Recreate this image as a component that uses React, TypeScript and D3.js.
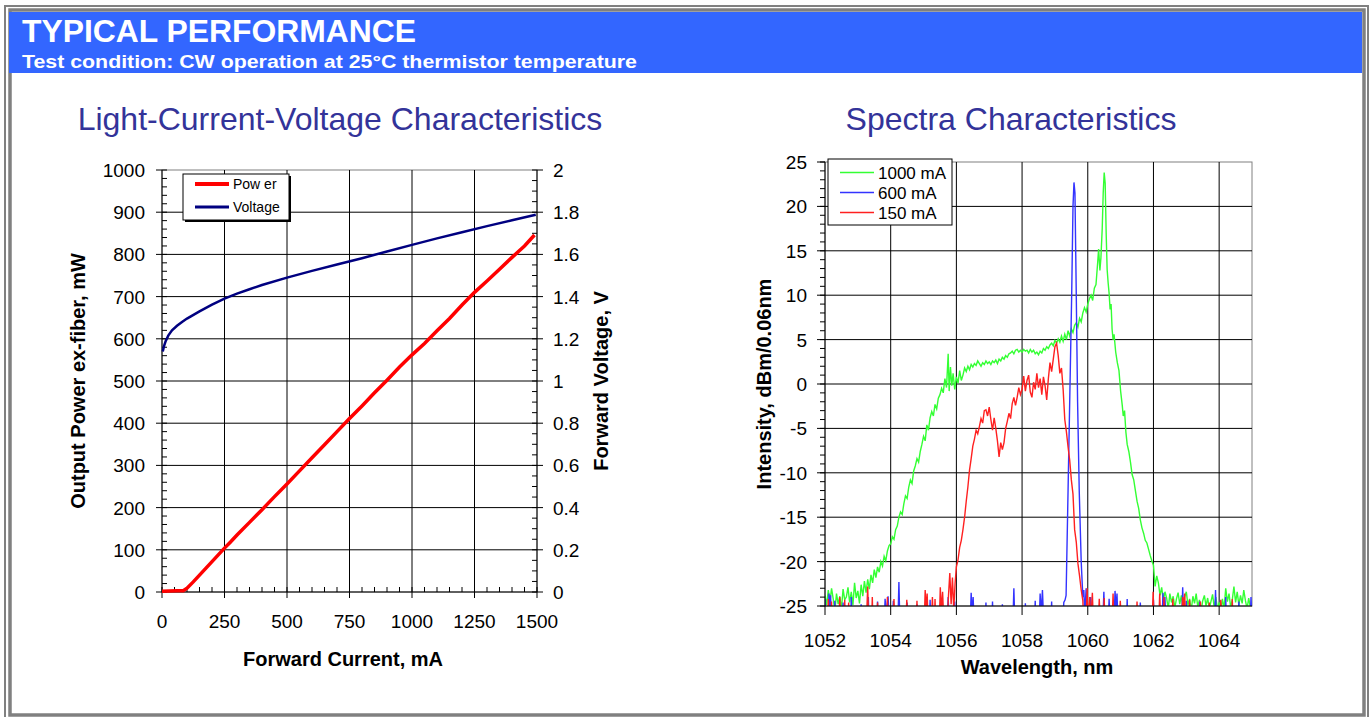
import * as d3 from "d3";

// LIV chart
const currentTicks = [0, 250, 500, 750, 1000, 1250, 1500];
const powerTicks = [0, 100, 200, 300, 400, 500, 600, 700, 800, 900, 1000];
const voltageTicks = [0, 0.2, 0.4, 0.6, 0.8, 1, 1.2, 1.4, 1.6, 1.8, 2];

// [mA, mW]
const powerCurve: [number, number][] = [
  [0, 2], [30, 2.5], [60, 3], [85, 3], [100, 9], [125, 24], [150, 40], [175, 56],
  [200, 72], [225, 88], [250, 104], [275, 119], [300, 135], [350, 165], [400, 195],
  [450, 226], [500, 256], [550, 287], [600, 318], [650, 349], [700, 380], [750, 411],
  [800, 441], [850, 472], [900, 502], [950, 533], [1000, 562], [1050, 589], [1100, 619],
  [1150, 648], [1200, 680], [1250, 710], [1300, 737], [1350, 765], [1400, 793],
  [1450, 820], [1490, 846]
];

// [mA, V]
const voltageCurve: [number, number][] = [
  [3, 1.14], [8, 1.165], [15, 1.19], [25, 1.215], [40, 1.24], [60, 1.262], [80, 1.28],
  [100, 1.296], [150, 1.33], [200, 1.362], [250, 1.39], [300, 1.414], [350, 1.435],
  [400, 1.455], [500, 1.49], [600, 1.522], [700, 1.552], [800, 1.582], [900, 1.614],
  [1000, 1.645], [1100, 1.676], [1200, 1.705], [1300, 1.734], [1400, 1.762], [1495, 1.788]
];

// Spectra chart
const wavelengthTicks = [1052, 1054, 1056, 1058, 1060, 1062, 1064];
const intensityTicks = [-25, -20, -15, -10, -5, 0, 5, 10, 15, 20, 25];
const spectraLabels = ["1000 mA", "600 mA", "150 mA"];
const spectraColors = ["#33ff33", "#3333ff", "#ff2020"];

// [nm, dBm]
const spec1000: [number, number][] = [
  [1052.0, -23.8], [1052.05, -24.9], [1052.1, -23.2], [1052.15, -24.5], [1052.2, -23.0],
  [1052.25, -24.2], [1052.3, -25.6], [1052.35, -23.6], [1052.4, -24.8], [1052.45, -23.9],
  [1052.5, -25.4], [1052.55, -23.1], [1052.6, -24.3], [1052.65, -24.0], [1052.7, -22.9],
  [1052.75, -24.6], [1052.8, -23.4], [1052.85, -24.9], [1052.9, -22.4], [1052.95, -24.1],
  [1053.0, -23.3], [1053.05, -24.7], [1053.1, -22.6], [1053.15, -23.9], [1053.2, -22.2],
  [1053.25, -23.5], [1053.3, -22.0], [1053.35, -23.1], [1053.4, -21.5], [1053.45, -22.4],
  [1053.5, -20.9], [1053.55, -21.8], [1053.6, -20.6], [1053.65, -21.2], [1053.7, -20.0],
  [1053.75, -20.5], [1053.8, -19.4], [1053.85, -19.9], [1053.9, -18.8], [1053.95, -18.2],
  [1054.0, -18.0], [1054.05, -17.2], [1054.1, -17.5], [1054.15, -16.4], [1054.2, -16.0],
  [1054.25, -15.0], [1054.3, -14.4], [1054.35, -14.7], [1054.4, -13.5], [1054.45, -12.6],
  [1054.5, -12.9], [1054.55, -11.6], [1054.6, -10.8], [1054.65, -11.2], [1054.7, -9.8],
  [1054.75, -9.2], [1054.8, -8.4], [1054.85, -8.8], [1054.9, -7.6], [1054.95, -6.8],
  [1055.0, -5.9], [1055.05, -6.4], [1055.1, -4.6], [1055.15, -5.2], [1055.2, -3.8],
  [1055.25, -3.1], [1055.3, -3.6], [1055.35, -2.3], [1055.4, -2.8], [1055.45, -1.6],
  [1055.5, -1.2], [1055.55, -0.5], [1055.6, -1.0], [1055.65, 0.6], [1055.7, -0.4],
  [1055.75, 3.4], [1055.78, -0.8], [1055.82, 1.9], [1055.86, -0.2], [1055.9, 1.2],
  [1055.95, -0.6], [1056.0, 0.8], [1056.05, 0.1], [1056.1, 1.5], [1056.15, 0.4],
  [1056.2, 1.0], [1056.25, 1.8], [1056.3, 1.4], [1056.35, 2.0], [1056.4, 1.6],
  [1056.45, 2.2], [1056.5, 1.9], [1056.55, 2.3], [1056.6, 2.1], [1056.65, 2.6],
  [1056.7, 2.3], [1056.75, 2.0], [1056.8, 2.4], [1056.85, 2.2], [1056.9, 2.6],
  [1056.95, 2.3], [1057.0, 2.5], [1057.05, 2.2], [1057.1, 2.6], [1057.15, 2.4],
  [1057.2, 2.7], [1057.25, 2.3], [1057.3, 2.8], [1057.35, 2.6], [1057.4, 3.0],
  [1057.45, 2.8], [1057.5, 3.2], [1057.55, 3.0], [1057.6, 3.4], [1057.65, 3.5],
  [1057.7, 3.7], [1057.75, 3.4], [1057.8, 3.8], [1057.85, 3.9], [1057.9, 3.6],
  [1057.95, 3.8], [1058.0, 3.6], [1058.05, 3.9], [1058.1, 3.7], [1058.15, 3.8],
  [1058.2, 3.5], [1058.25, 3.9], [1058.3, 3.6], [1058.35, 3.8], [1058.4, 3.4],
  [1058.45, 3.6], [1058.5, 3.3], [1058.55, 3.7], [1058.6, 3.5], [1058.65, 4.0],
  [1058.7, 3.8], [1058.75, 4.2], [1058.8, 4.0], [1058.85, 4.4], [1058.9, 4.6],
  [1058.95, 4.3], [1059.0, 4.9], [1059.05, 4.6], [1059.1, 5.1], [1059.15, 4.7],
  [1059.2, 5.4], [1059.25, 4.8], [1059.3, 5.6], [1059.35, 5.0], [1059.4, 6.0],
  [1059.45, 5.4], [1059.5, 6.2], [1059.55, 5.8], [1059.6, 6.6], [1059.65, 6.9],
  [1059.7, 6.4], [1059.75, 7.4], [1059.8, 7.0], [1059.85, 8.0], [1059.9, 8.6],
  [1059.95, 8.1], [1060.0, 9.0], [1060.05, 9.6], [1060.1, 10.0], [1060.15, 9.4],
  [1060.2, 10.8], [1060.25, 11.2], [1060.3, 13.6], [1060.33, 15.2], [1060.37, 12.8],
  [1060.4, 14.2], [1060.44, 17.5], [1060.47, 21.5], [1060.5, 23.8], [1060.53, 22.6],
  [1060.56, 17.0], [1060.59, 12.9], [1060.62, 11.4], [1060.65, 10.2], [1060.68, 8.4],
  [1060.71, 9.0], [1060.74, 6.2], [1060.77, 5.0], [1060.8, 5.6], [1060.85, 3.6],
  [1060.9, 2.4], [1060.95, 1.5], [1061.0, -0.8], [1061.05, -2.4], [1061.08, -3.6],
  [1061.12, -3.0], [1061.16, -5.4], [1061.2, -6.8], [1061.25, -7.6], [1061.3, -8.8],
  [1061.35, -10.2], [1061.4, -10.8], [1061.45, -12.0], [1061.5, -13.2], [1061.55, -14.0],
  [1061.6, -15.3], [1061.65, -16.2], [1061.7, -16.8], [1061.75, -17.6], [1061.8, -17.9],
  [1061.85, -18.6], [1061.9, -19.3], [1061.95, -19.9], [1062.0, -20.4], [1062.05, -22.8],
  [1062.1, -21.6], [1062.15, -22.4], [1062.2, -23.8], [1062.25, -22.9], [1062.3, -24.4],
  [1062.35, -23.4], [1062.4, -24.1], [1062.45, -25.3], [1062.5, -23.6], [1062.55, -24.6],
  [1062.6, -23.9], [1062.65, -25.2], [1062.7, -24.2], [1062.75, -23.5], [1062.8, -24.8],
  [1062.85, -23.8], [1062.9, -25.4], [1062.95, -24.0], [1063.0, -23.4], [1063.05, -24.9],
  [1063.1, -24.2], [1063.15, -25.5], [1063.2, -23.9], [1063.25, -24.7], [1063.3, -23.6],
  [1063.35, -25.1], [1063.4, -24.3], [1063.45, -25.6], [1063.5, -24.4], [1063.55, -23.8],
  [1063.6, -25.0], [1063.65, -24.1], [1063.7, -25.3], [1063.75, -24.5], [1063.8, -23.7],
  [1063.85, -25.2], [1063.9, -24.0], [1063.95, -25.4], [1064.0, -24.6], [1064.05, -25.5],
  [1064.1, -24.2], [1064.15, -25.3], [1064.2, -23.0], [1064.25, -24.5], [1064.3, -23.6],
  [1064.35, -25.1], [1064.4, -24.3], [1064.45, -22.8], [1064.5, -24.6], [1064.55, -23.4],
  [1064.6, -24.9], [1064.65, -23.8], [1064.7, -24.7], [1064.75, -23.2], [1064.8, -24.4],
  [1064.85, -25.3], [1064.9, -24.1], [1064.95, -25.2]
];

const spec600: [number, number][] = [
  [1052.0, -24.2], [1052.02, -27], [1052.1, -27], [1052.12, -23.6], [1052.14, -26],
  [1052.17, -23.8], [1052.2, -27], [1052.28, -27], [1052.3, -24.4], [1052.32, -27],
  [1052.53, -27], [1052.55, -24.6], [1052.57, -27], [1052.78, -27], [1052.8, -24.0],
  [1052.82, -27], [1053.08, -27], [1053.1, -24.8], [1053.12, -27],
  [1053.3, -27], [1053.32, -24.0], [1053.34, -27], [1053.58, -27], [1053.6, -24.5],
  [1053.62, -27], [1053.8, -27], [1053.83, -24.2],
  [1053.86, -26], [1053.92, -23.9], [1053.96, -27], [1054.05, -27], [1054.08, -24.4],
  [1054.12, -27], [1054.22, -27], [1054.25, -22.3], [1054.28, -27], [1054.48, -27],
  [1054.5, -24.6], [1054.52, -27], [1054.78, -27],
  [1054.8, -24.8], [1054.82, -27], [1055.18, -27], [1055.2, -24.3], [1055.22, -27],
  [1055.72, -27], [1055.75, -24.0], [1055.78, -27], [1055.93, -27], [1055.95, -24.5],
  [1055.97, -27],
  [1056.42, -27], [1056.45, -23.5], [1056.48, -26], [1056.51, -24.0], [1056.54, -27],
  [1056.88, -27], [1056.9, -24.6], [1056.92, -27],
  [1057.08, -27], [1057.1, -24.5], [1057.12, -27], [1057.38, -27], [1057.4, -24.8],
  [1057.42, -27], [1057.72, -27], [1057.75, -23.0], [1057.78, -27], [1058.08, -27],
  [1058.1, -24.7], [1058.12, -27], [1058.38, -27],
  [1058.4, -24.4], [1058.42, -27], [1058.52, -27], [1058.55, -23.6], [1058.58, -26],
  [1058.62, -23.2], [1058.66, -27], [1058.88, -27], [1058.9, -24.5], [1058.92, -27],
  [1059.24, -27], [1059.27, -24.6], [1059.31, -24.3],
  [1059.34, -23.8], [1059.4, -12.0], [1059.46, 0.0], [1059.51, 10.0], [1059.55, 20.0],
  [1059.58, 22.7], [1059.61, 21.5], [1059.65, 10.0], [1059.69, -2.0], [1059.74, -12.0],
  [1059.8, -20.0], [1059.85, -24.0], [1059.88, -23.2], [1059.91, -26], [1059.95, -23.0],
  [1059.98, -27], [1060.06, -27], [1060.09, -24.0], [1060.12, -27], [1060.46, -27],
  [1060.49, -23.4], [1060.52, -27], [1060.62, -27], [1060.65, -24.2], [1060.68, -27],
  [1060.8, -27], [1060.83, -23.3], [1060.86, -25.4], [1060.89, -23.6], [1060.92, -27],
  [1061.18, -27], [1061.2, -24.2], [1061.22, -27], [1061.58, -27], [1061.6, -24.6],
  [1061.62, -27], [1061.98, -27], [1062.0, -24.3], [1062.02, -27],
  [1062.26, -27], [1062.29, -23.5], [1062.32, -26], [1062.35, -24.0], [1062.38, -27],
  [1062.86, -27], [1062.89, -22.9], [1062.92, -27], [1062.98, -27], [1063.0, -24.4],
  [1063.02, -27], [1063.38, -27], [1063.41, -24.5],
  [1063.44, -27], [1063.86, -27], [1063.89, -23.2], [1063.92, -27], [1064.18, -27],
  [1064.2, -24.0], [1064.22, -27], [1064.58, -27], [1064.6, -24.5], [1064.62, -27],
  [1064.94, -27], [1064.97, -24.0], [1065.0, -27]
];

const spec150: [number, number][] = [
  [1052.0, -27], [1052.08, -27], [1052.1, -24.2], [1052.12, -27], [1052.18, -27],
  [1052.2, -24.5], [1052.22, -27], [1052.42, -27],
  [1052.45, -24.0], [1052.48, -27], [1052.58, -27], [1052.6, -24.3], [1052.62, -27],
  [1052.7, -27], [1052.72, -24.6], [1052.74, -27],
  [1053.26, -27], [1053.3, -22.8], [1053.33, -27], [1053.42, -27], [1053.44, -24.0],
  [1053.46, -27], [1053.58, -27], [1053.6, -24.6], [1053.62, -27], [1053.88, -27],
  [1053.9, -24.0], [1053.92, -27], [1054.08, -27], [1054.1, -24.2], [1054.12, -27],
  [1054.46, -27], [1054.49, -24.3], [1054.52, -27], [1054.78, -27], [1054.8, -24.4],
  [1054.82, -27], [1055.02, -27], [1055.05, -23.2], [1055.08, -25.5],
  [1055.11, -23.6], [1055.14, -27], [1055.24, -27], [1055.27, -24.0], [1055.3, -27],
  [1055.33, -27], [1055.35, -24.2], [1055.37, -27],
  [1055.48, -27], [1055.51, -22.9], [1055.54, -25.6], [1055.58, -23.4], [1055.62, -27],
  [1055.72, -27], [1055.76, -23.8], [1055.8, -21.3], [1055.84, -24.8], [1055.88, -21.8],
  [1055.92, -25.4], [1055.96, -22.5], [1056.0, -20.6], [1056.05, -19.8], [1056.1, -18.4],
  [1056.15, -17.6], [1056.2, -16.4], [1056.25, -15.0], [1056.3, -13.2], [1056.35, -11.6],
  [1056.4, -9.7], [1056.45, -8.4], [1056.5, -7.0], [1056.55, -6.2], [1056.6, -5.2],
  [1056.65, -5.6], [1056.7, -4.8], [1056.75, -3.9], [1056.8, -4.4], [1056.85, -3.0],
  [1056.9, -2.9], [1056.95, -3.6], [1057.0, -2.6], [1057.05, -4.0], [1057.1, -5.2],
  [1057.15, -3.8], [1057.2, -5.0], [1057.25, -6.4], [1057.3, -8.2], [1057.35, -6.6],
  [1057.4, -7.4], [1057.45, -6.6], [1057.5, -5.0], [1057.55, -4.2], [1057.6, -3.3],
  [1057.65, -3.9], [1057.7, -2.2], [1057.75, -1.5], [1057.8, -2.4], [1057.85, -1.5],
  [1057.9, -0.4], [1057.95, -1.2], [1058.0, -0.6], [1058.05, 0.9], [1058.1, -0.8],
  [1058.15, 0.4], [1058.2, 1.0], [1058.25, -0.9], [1058.3, -1.5], [1058.35, 0.2],
  [1058.4, -0.6], [1058.45, 1.2], [1058.5, -0.4], [1058.55, 0.6], [1058.6, -1.2],
  [1058.65, 0.8], [1058.7, -0.2], [1058.75, -1.8], [1058.8, 0.6], [1058.85, 2.4],
  [1058.9, 1.4], [1058.95, 2.8], [1059.0, 4.2], [1059.05, 4.6], [1059.1, 3.2],
  [1059.15, 1.2], [1059.2, 1.8], [1059.25, -0.6], [1059.3, -4.0], [1059.35, -5.4],
  [1059.4, -7.1], [1059.45, -8.6], [1059.5, -10.8], [1059.55, -12.4], [1059.6, -16.4],
  [1059.65, -17.8], [1059.7, -20.2], [1059.75, -21.6], [1059.8, -23.2], [1059.85, -24.4],
  [1059.88, -27], [1059.95, -27], [1059.98, -23.0], [1060.01, -27], [1060.06, -24.0],
  [1060.09, -27], [1060.14, -23.5], [1060.17, -27], [1060.32, -27], [1060.35, -24.2],
  [1060.38, -27], [1060.48, -27], [1060.5, -24.1], [1060.52, -27],
  [1060.74, -27], [1060.77, -23.6], [1060.8, -27], [1060.96, -27],
  [1060.99, -24.4], [1061.02, -27], [1061.48, -27], [1061.5, -24.5], [1061.52, -27],
  [1061.96, -27], [1061.99, -23.4], [1062.02, -27],
  [1062.16, -27], [1062.19, -23.6], [1062.22, -27], [1062.3, -27], [1062.32, -24.0],
  [1062.34, -27], [1062.56, -27], [1062.59, -24.2],
  [1062.62, -27], [1062.86, -27], [1062.89, -24.0], [1062.92, -25.5], [1062.95, -23.6],
  [1062.98, -27], [1063.08, -27], [1063.1, -24.3], [1063.12, -27],
  [1063.4, -27], [1063.43, -24.5], [1063.46, -27], [1063.68, -27], [1063.7, -24.6],
  [1063.72, -27], [1064.02, -27],
  [1064.05, -24.3], [1064.08, -27], [1064.38, -27], [1064.4, -24.2], [1064.42, -27],
  [1064.96, -27]
];

const FONT = "'Liberation Sans', Arial, Helvetica, sans-serif";
const TITLE_COLOR = "#333399";

const liv = { x0: 162, x1: 537, y0: 170, y1: 592 };
const spc = { x0: 825, x1: 1252, y0: 162, y1: 606 };

function LivChart() {
  const x = d3.scaleLinear().domain([0, 1500]).range([liv.x0, liv.x1]);
  const yP = d3.scaleLinear().domain([0, 1000]).range([liv.y1, liv.y0]);
  const yV = d3.scaleLinear().domain([0, 2]).range([liv.y1, liv.y0]);
  const powerLine = d3.line<[number, number]>().x((d) => x(d[0])).y((d) => yP(d[1]));
  const voltLine = d3.line<[number, number]>().x((d) => x(d[0])).y((d) => yV(d[1]));
  const minorX = d3.range(0, 1501, 50);
  const minorP = d3.range(0, 1001, 20);
  const minorV = d3.range(0, 2.001, 0.05);

  return (
    <g fontFamily={FONT}>
      <text x={340} y={130} textAnchor="middle" fontSize={32} fill={TITLE_COLOR}>
        Light-Current-Voltage Characteristics
      </text>
      <rect x={liv.x0} y={liv.y0} width={liv.x1 - liv.x0} height={liv.y1 - liv.y0} fill="#fff" stroke="#808080" />
      {currentTicks.slice(1, -1).map((t) => (
        <line key={`gx${t}`} x1={x(t)} x2={x(t)} y1={liv.y0} y2={liv.y1} stroke="#000" />
      ))}
      {powerTicks.slice(1, -1).map((t) => (
        <line key={`gy${t}`} x1={liv.x0} x2={liv.x1} y1={yP(t)} y2={yP(t)} stroke="#000" />
      ))}
      {/* left axis */}
      <line x1={liv.x0} x2={liv.x0} y1={liv.y0} y2={liv.y1} stroke="#000" />
      {minorP.map((t) => (
        <line key={`mp${t}`} x1={liv.x0} x2={liv.x0 + 5} y1={yP(t)} y2={yP(t)} stroke="#000" />
      ))}
      {powerTicks.map((t) => (
        <g key={`tp${t}`}>
          <line x1={liv.x0 - 6} x2={liv.x0} y1={yP(t)} y2={yP(t)} stroke="#000" />
          <text x={liv.x0 - 17} y={yP(t) + 7} textAnchor="end" fontSize={19}>{t}</text>
        </g>
      ))}
      {/* right axis */}
      <line x1={liv.x1} x2={liv.x1} y1={liv.y0} y2={liv.y1} stroke="#000" />
      {minorV.map((t, i) => (
        <line key={`mv${i}`} x1={liv.x1 - 5} x2={liv.x1} y1={yV(t)} y2={yV(t)} stroke="#000" />
      ))}
      {voltageTicks.map((t) => (
        <g key={`tv${t}`}>
          <line x1={liv.x1} x2={liv.x1 + 6} y1={yV(t)} y2={yV(t)} stroke="#000" />
          <text x={liv.x1 + 16} y={yV(t) + 7} fontSize={19}>{String(t)}</text>
        </g>
      ))}
      {/* bottom axis */}
      <line x1={liv.x0} x2={liv.x1} y1={liv.y1} y2={liv.y1} stroke="#000" />
      {minorX.map((t) => (
        <line key={`mx${t}`} x1={x(t)} x2={x(t)} y1={liv.y1 - 5} y2={liv.y1} stroke="#000" />
      ))}
      {currentTicks.map((t) => (
        <g key={`tx${t}`}>
          <line x1={x(t)} x2={x(t)} y1={liv.y1} y2={liv.y1 + 6} stroke="#000" />
          <text x={x(t)} y={628} textAnchor="middle" fontSize={19}>{t}</text>
        </g>
      ))}
      <path d={voltLine(voltageCurve) ?? ""} fill="none" stroke="#000080" strokeWidth={2.5} />
      <path d={powerLine(powerCurve) ?? ""} fill="none" stroke="#ff0000" strokeWidth={3.5} />
      {/* legend */}
      <rect x={185} y={176} width={106} height={46} fill="#000" />
      <rect x={183} y={174} width={106} height={46} fill="#fff" stroke="#000" />
      <line x1={195} x2={229} y1={184} y2={184} stroke="#ff0000" strokeWidth={4} />
      <text x={233} y={189} fontSize={14}>Pow er</text>
      <line x1={195} x2={229} y1={207} y2={207} stroke="#000080" strokeWidth={3} />
      <text x={233} y={212} fontSize={14}>Voltage</text>
      {/* axis titles */}
      <text x={343} y={666} textAnchor="middle" fontSize={20} fontWeight="bold">Forward Current, mA</text>
      <text transform={`translate(85,${(liv.y0 + liv.y1) / 2}) rotate(-90)`} textAnchor="middle" fontSize={20} fontWeight="bold">
        Output Power ex-fiber, mW
      </text>
      <text transform={`translate(608,${(liv.y0 + liv.y1) / 2}) rotate(-90)`} textAnchor="middle" fontSize={20} fontWeight="bold">
        Forward Voltage, V
      </text>
    </g>
  );
}

function SpectraChart() {
  const x = d3.scaleLinear().domain([1052, 1065]).range([spc.x0, spc.x1]);
  const y = d3.scaleLinear().domain([-25, 25]).range([spc.y1, spc.y0]);
  const line = d3.line<[number, number]>().x((d) => x(d[0])).y((d) => y(d[1]));
  const minorY = d3.range(-25, 26, 1);
  const series = [spec1000, spec600, spec150];

  return (
    <g fontFamily={FONT}>
      <defs>
        <clipPath id="spc-clip">
          <rect x={spc.x0} y={spc.y0 - 2} width={spc.x1 - spc.x0} height={spc.y1 - spc.y0 + 2} />
        </clipPath>
      </defs>
      <text x={1011} y={130} textAnchor="middle" fontSize={32} fill={TITLE_COLOR}>
        Spectra Characteristics
      </text>
      <rect x={spc.x0} y={spc.y0} width={spc.x1 - spc.x0} height={spc.y1 - spc.y0} fill="#fff" stroke="#808080" />
      {wavelengthTicks.slice(1).map((t) => (
        <line key={`gx${t}`} x1={x(t)} x2={x(t)} y1={spc.y0} y2={spc.y1} stroke="#000" />
      ))}
      {intensityTicks.slice(1, -1).map((t) => (
        <line key={`gy${t}`} x1={spc.x0} x2={spc.x1} y1={y(t)} y2={y(t)} stroke="#000" />
      ))}
      <g clipPath="url(#spc-clip)">
        {series.map((s, i) => (
          <path key={i} d={line(s) ?? ""} fill="none" stroke={spectraColors[i]} strokeWidth={1.4} />
        ))}
      </g>
      <line x1={spc.x0} x2={spc.x0} y1={spc.y0} y2={spc.y1} stroke="#000" />
      {minorY.map((t) => (
        <line key={`my${t}`} x1={spc.x0 - 5} x2={spc.x0} y1={y(t)} y2={y(t)} stroke="#000" />
      ))}
      {intensityTicks.map((t) => (
        <g key={`ty${t}`}>
          <line x1={spc.x0 - 8} x2={spc.x0} y1={y(t)} y2={y(t)} stroke="#000" />
          <text x={spc.x0 - 18} y={y(t) + 7} textAnchor="end" fontSize={19}>{t}</text>
        </g>
      ))}
      <line x1={spc.x0} x2={spc.x1} y1={spc.y1} y2={spc.y1} stroke="#000" />
      {wavelengthTicks.map((t) => (
        <g key={`tx${t}`}>
          <line x1={x(t)} x2={x(t)} y1={spc.y1} y2={spc.y1 + 9} stroke="#000" />
          <text x={x(t)} y={647} textAnchor="middle" fontSize={19}>{t}</text>
        </g>
      ))}
      {/* legend */}
      <rect x={828} y={159} width={124} height={66} fill="#fff" stroke="#000" />
      {spectraLabels.map((lab, i) => (
        <g key={lab}>
          <line x1={840} x2={874} y1={172.5 + i * 20} y2={172.5 + i * 20} stroke={spectraColors[i]} strokeWidth={1.5} />
          <text x={878} y={178.5 + i * 20} fontSize={17}>{lab}</text>
        </g>
      ))}
      <text x={1037} y={674} textAnchor="middle" fontSize={20} fontWeight="bold">Wavelength, nm</text>
      <text transform={`translate(771,${(spc.y0 + spc.y1) / 2}) rotate(-90)`} textAnchor="middle" fontSize={20} fontWeight="bold">
        Intensity, dBm/0.06nm
      </text>
    </g>
  );
}

export default function App() {
  return (
    <svg
      width={1372}
      height={717}
      style={{ position: "absolute", left: 0, top: 0, display: "block", background: "#fff" }}
    >
      <rect x={5} y={6} width={1363} height={720} fill="none" stroke="#808080" strokeWidth={2} />
      <rect x={10} y={10} width={1354} height={705} fill="none" stroke="#808080" strokeWidth={3.5} />
      <rect x={9} y={12} width={1353} height={61} fill="#3366ff" />
      <text x={22} y={42} fontFamily={FONT} fontSize={31} fontWeight="bold" fill="#fff" textLength={394} lengthAdjust="spacingAndGlyphs">
        TYPICAL PERFORMANCE
      </text>
      <text x={22} y={68} fontFamily={FONT} fontSize={19} fontWeight="bold" fill="#fff" textLength={615} lengthAdjust="spacingAndGlyphs">
        Test condition: CW operation at 25°C thermistor temperature
      </text>
      <LivChart />
      <SpectraChart />
    </svg>
  );
}
